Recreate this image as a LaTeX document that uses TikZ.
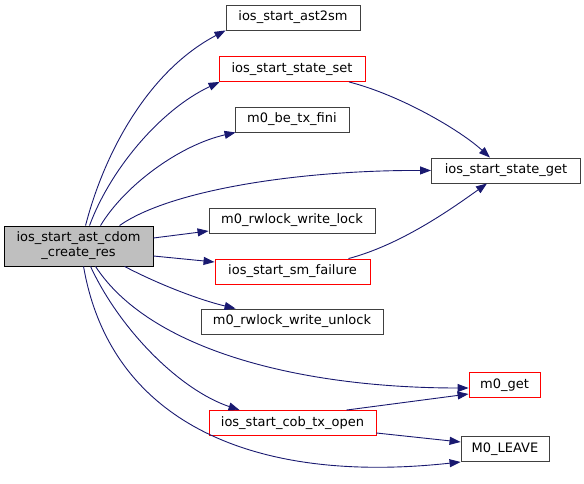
\documentclass[tikz,border=0pt]{standalone}
\usepackage{fontspec}
\setmainfont{DejaVu Sans}
\usetikzlibrary{arrows.meta,calc}
\definecolor{edgec}{HTML}{191970}
\definecolor{redb}{HTML}{FF0000}
\definecolor{greyb}{HTML}{404040}
\definecolor{mainfill}{HTML}{BFBFBF}
\tikzset{
  fn/.style={draw=greyb, line width=0.9pt, rectangle, inner sep=0pt, minimum height=25pt, font=\fontsize{13}{15}\selectfont},
  fnred/.style={fn, draw=redb},
  calls/.style={draw=edgec, line width=0.9pt, -{Triangle[length=11pt,width=8pt]}},
}
\begin{document}
\begin{tikzpicture}[x=1pt,y=-1pt]
\useasboundingbox (0,0) rectangle (584,484);
\node[fn, draw=black, fill=mainfill, minimum width=149pt, minimum height=40pt, align=center] (main) at (78.5,246) {ios\_start\_ast\_cdom\\\_create\_res};
\node[fn, minimum width=134pt] (ast2sm) at (293,17.5) {ios\_start\_ast2sm};
\node[fnred, minimum width=146pt] (sset) at (292,69) {ios\_start\_state\_set};
\node[fn, minimum width=114pt] (fini) at (292,119.5) {m0\_be\_tx\_fini};
\node[fn, minimum width=149pt] (sget) at (506,170.5) {ios\_start\_state\_get};
\node[fn, minimum width=166pt] (wlock) at (292,220.5) {m0\_rwlock\_write\_lock};
\node[fnred, minimum width=155pt] (fail) at (292.5,271.5) {ios\_start\_sm\_failure};
\node[fn, minimum width=182pt] (unlock) at (292,321.5) {m0\_rwlock\_write\_unlock};
\node[fnred, minimum width=71pt] (get) at (504.5,385) {m0\_get};
\node[fnred, minimum width=167pt] (cob) at (292.5,423) {ios\_start\_cob\_tx\_open};
\node[fn, minimum width=88pt] (leave) at (505,449) {M0\_LEAVE};

\draw[calls] ([xshift=82pt]main.north west) .. controls (105,150) and (150,70) .. (ast2sm.south west);
\draw[calls] ([xshift=86pt]main.north west) .. controls (110,170) and (160,110) .. ([xshift=1pt]sset.south west);
\draw[calls] ([xshift=97pt]main.north west) .. controls (125,185) and (180,145) .. ([xshift=1pt]fini.south west);
\draw[calls] ([xshift=116pt]main.north west) .. controls (170,190) and (300,170) .. (sget.west);
\draw[calls] ([yshift=8pt]main.east) -- ([yshift=-10.5pt]wlock.west);
\draw[calls] ([yshift=-10pt]main.east) -- ([yshift=9.5pt]fail.west);
\draw[calls] ([xshift=121pt]main.south west) .. controls (160,285) and (200,300) .. ([xshift=35pt]unlock.north west);
\draw[calls] ([xshift=92pt]main.south west) .. controls (150,350) and (300,388) .. ([yshift=-3pt]get.west);
\draw[calls] ([xshift=87pt]main.south west) .. controls (120,330) and (180,390) .. ([xshift=31pt]cob.north west);
\draw[calls] ([xshift=80pt]main.south west) .. controls (110,420) and (250,485) .. ([yshift=-13pt]leave.west);
\draw[calls] ([xshift=57pt]sset.south) .. controls (400,95) and (460,130) .. ([xshift=-16pt]sget.north);
\draw[calls] ([xshift=56pt]fail.north) .. controls (400,245) and (450,210) .. ([xshift=-19pt]sget.south);
\draw[calls] ([xshift=54pt]cob.north) -- ([yshift=-9pt]get.west);
\draw[calls] ([yshift=-10pt]cob.east) -- ([yshift=7pt]leave.west);
\end{tikzpicture}
\end{document}
